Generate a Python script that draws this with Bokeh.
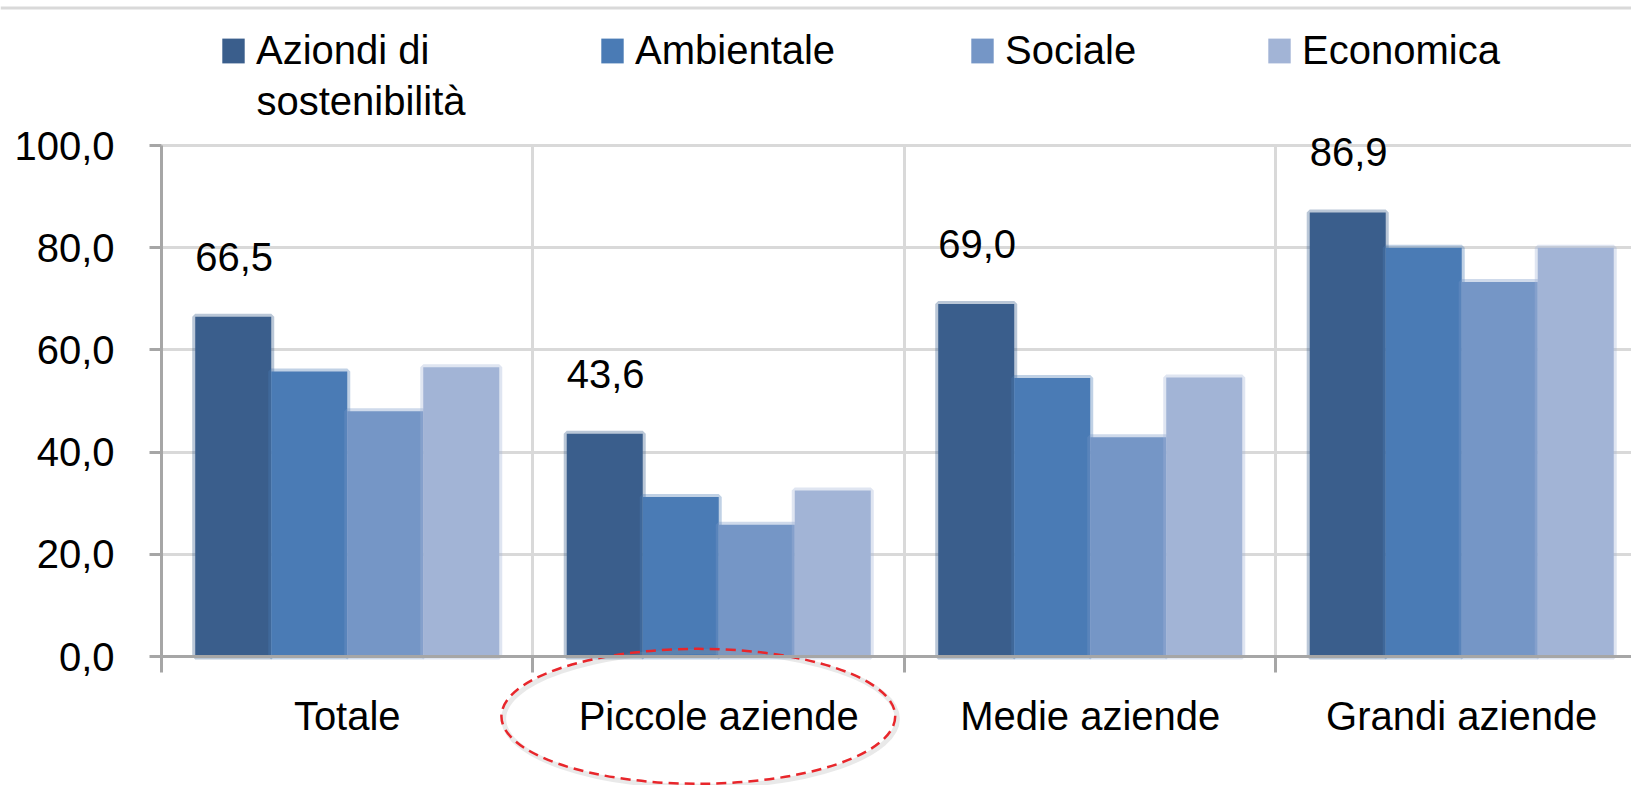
from bokeh.plotting import figure
from bokeh.models import (ColumnDataSource, Range1d, FixedTicker, LinearAxis, Legend,
                          LegendItem, Span, Grid, Label)
from bokeh.embed import file_html
from bokeh.resources import INLINE
from bokeh.core.properties import value

# ---------------- data ----------------
categories = ["Totale", "Piccole aziende", "Medie aziende", "Grandi aziende"]
series_names = ["Aziondi di", "Ambientale", "Sociale", "Economica"]
series_name_2nd_line = ["sostenibilità", "", "", ""]
series_colors = ["#3a5e8c", "#4a7bb5", "#7596c6", "#a2b4d6"]
aziondi = [66.5, 43.6, 69.0, 86.9]
ambientale = [55.8, 31.2, 54.5, 80.0]
sociale = [48.0, 25.8, 42.9, 73.3]
economica = [56.6, 32.5, 54.6, 80.0]
value_labels = ["66,5", "43,6", "69,0", "86,9"]
y_ticks = [0, 20, 40, 60, 80, 100]
y_tick_labels = ["0,0", "20,0", "40,0", "60,0", "80,0", "100,0"]
highlight = "Piccole aziende"

series_values = [aziondi, ambientale, sociale, economica]

# ---------------- layout constants ----------------
FONT = "Liberation Sans"
FS = "40px"
W, H = 1631, 785
BAR_W = 0.2046
GRID_C = "#d9d9d9"
AXIS_C = "#a6a6a6"
LEGEND_X = [219, 598, 968, 1265]
LEGEND_VY = 712
GLYPH_W, GLYPH_H, STANDOFF = 28, 31, 9

n = len(categories)
centers = [i + 0.5 for i in range(n)]
boundaries = list(range(n + 1))

Y0, Y1 = -25.24, 128.38
p = figure(width=W, height=H, output_backend="svg", toolbar_location=None,
           x_range=Range1d(-0.4334, 3.957), y_range=Range1d(Y0, Y1),
           x_axis_location=None, y_axis_location=None, min_border=0)
p.outline_line_color = None
p.grid.visible = False

# grids
p.add_layout(Grid(dimension=1, ticker=FixedTicker(ticks=y_ticks), cross_bounds=(0, 4),
                  grid_line_color=GRID_C, grid_line_width=3), "center")
p.add_layout(Grid(dimension=0, ticker=FixedTicker(ticks=boundaries), cross_bounds=(0, 100),
                  grid_line_color=GRID_C, grid_line_width=3), "center")

# bars
bar_renderers = []
for k, (col, vals) in enumerate(zip(series_colors, series_values)):
    off = (k - 1.5) * BAR_W
    src = ColumnDataSource(dict(x=[c + off for c in centers], top=vals))
    p.vbar(x="x", top="top", width=BAR_W, bottom=0, source=src,
           fill_color=None, line_color=col, line_alpha=0.35, line_width=6)
    r = p.vbar(x="x", top="top", width=BAR_W, bottom=0, source=src,
               fill_color=col, line_color=None)
    bar_renderers.append(r)

# value labels above first series
lab_src = ColumnDataSource(dict(x=[c - 2 * BAR_W for c in centers], y=aziondi, t=value_labels))
p.text(x="x", y="y", text="t", source=lab_src, text_align="left",
       text_baseline="alphabetic", y_offset=-60, text_font=value(FONT),
       text_font_size=FS, text_color="black")

# axes
yaxis = LinearAxis(fixed_location=0, ticker=FixedTicker(ticks=y_ticks), bounds=(0, 100),
                   major_label_overrides={t: l for t, l in zip(y_ticks, y_tick_labels)},
                   axis_line_color=AXIS_C, axis_line_width=3,
                   major_tick_line_color=AXIS_C, major_tick_line_width=3,
                   major_tick_in=0, major_tick_out=12, minor_tick_line_color=None,
                   major_label_standoff=35, major_label_text_font=FONT,
                   major_label_text_font_size=FS, major_label_text_color="black")
p.add_layout(yaxis, "left")

xaxis = LinearAxis(fixed_location=0, ticker=FixedTicker(ticks=boundaries), bounds=(0, 4),
                   axis_line_color=AXIS_C, axis_line_width=3,
                   major_tick_line_color=AXIS_C, major_tick_line_width=3,
                   major_tick_in=0, major_tick_out=16, minor_tick_line_color=None,
                   major_label_text_color=None)
p.add_layout(xaxis, "below")

cat_axis = LinearAxis(fixed_location=0, ticker=FixedTicker(ticks=centers),
                      major_label_overrides={c: l for c, l in zip(centers, categories)},
                      axis_line_color=None, major_tick_line_color=None,
                      minor_tick_line_color=None, major_tick_in=0, major_tick_out=0,
                      major_label_standoff=37, major_label_text_font=FONT,
                      major_label_text_font_size=FS, major_label_text_color="black")
p.add_layout(cat_axis, "below")

# top border line
p.add_layout(Span(location=Y1 - 1.45, dimension="width", line_color=GRID_C, line_width=3))

# highlight ellipse
hx = categories.index(highlight) + 0.5 - 0.055
p.ellipse(x=[hx + 0.006], y=[-12.2], width=1.06, height=26.4, fill_color=None,
          line_color="#999999", line_alpha=0.22, line_width=5)
p.ellipse(x=[hx], y=[-11.7], width=1.06, height=26.4, fill_color=None,
          line_color="#e8262b", line_dash="10 6", line_width=2.5)

# legend: one block per series, laid out horizontally
for k, (name, r) in enumerate(zip(series_names, bar_renderers)):
    lg = Legend(items=[LegendItem(label=name, renderers=[r])], location=(LEGEND_X[k], LEGEND_VY),
                glyph_width=GLYPH_W, glyph_height=GLYPH_H, label_standoff=STANDOFF,
                padding=0, margin=0, border_line_color=None, background_fill_alpha=0,
                label_text_font=FONT, label_text_font_size=FS, label_text_color="black")
    p.add_layout(lg)
    if series_name_2nd_line[k]:
        p.add_layout(Label(x=LEGEND_X[k] + GLYPH_W + STANDOFF, y=H - 100,
                           x_units="screen", y_units="screen",
                           text=series_name_2nd_line[k], text_font=FONT, text_font_size=FS,
                           text_baseline="alphabetic", text_color="black"))

open("out.html", "w").write(file_html(p, INLINE))
